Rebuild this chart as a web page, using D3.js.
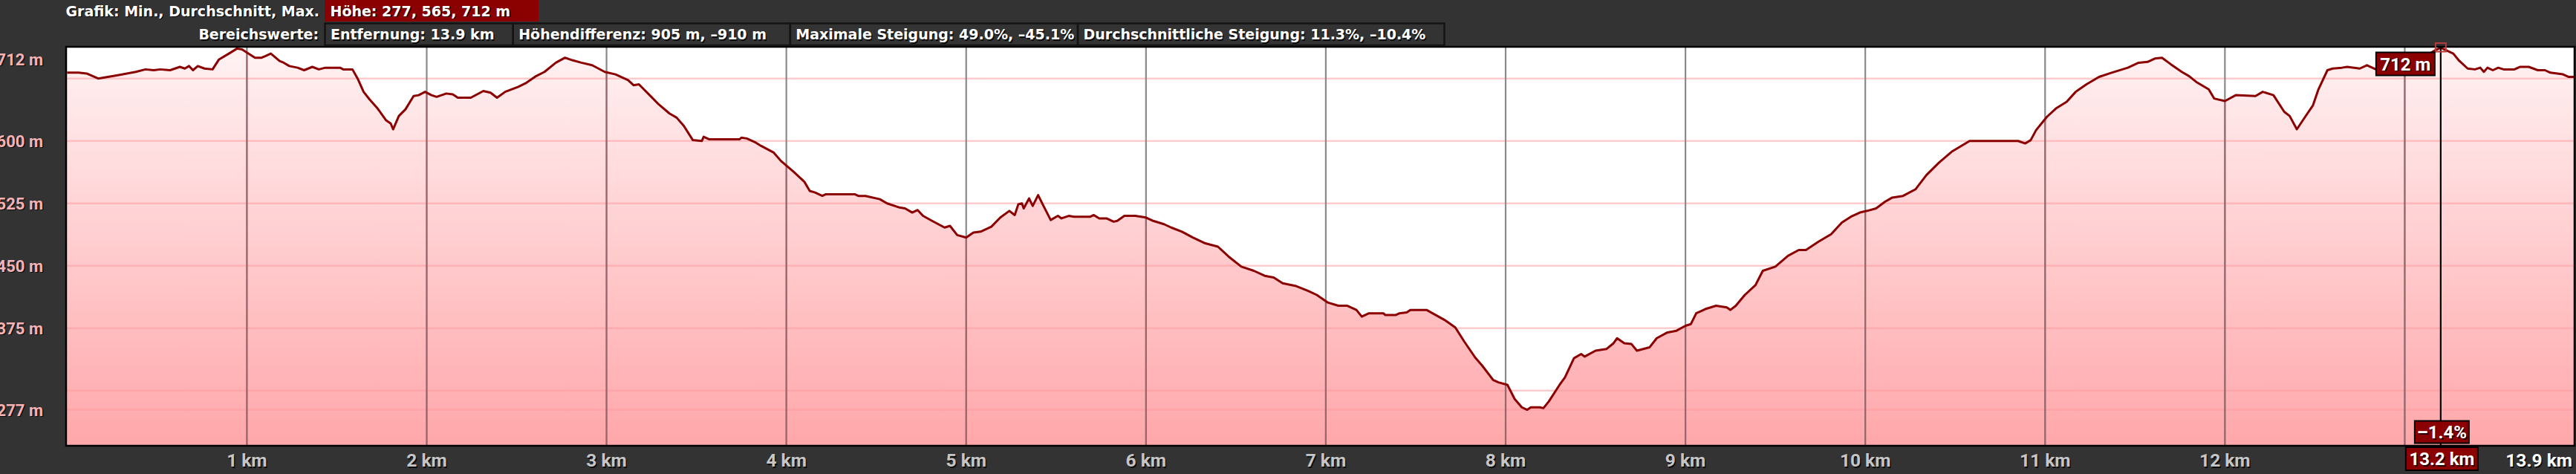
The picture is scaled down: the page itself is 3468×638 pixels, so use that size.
<!DOCTYPE html>
<html>
<head>
<meta charset="UTF-8">
<title>Höhenprofil</title>
<style>
  body { margin: 0; background: #333333; overflow: hidden; }
  svg { display: block; }
  text { font-family: Roboto, "DejaVu Sans", sans-serif; font-weight: bold; }
  .head text { font-family: "DejaVu Sans", sans-serif; }
</style>
</head>
<body>
<script src="https://d3js.org/d3.v7.min.js"></script>
<script>

// Profile data: distance (km) and elevation (m)
var distKm = [0, 0.064, 0.109, 0.173, 0.227, 0.282, 0.382, 0.436, 0.482, 0.518, 0.573, 0.627, 0.655, 0.678, 0.7, 0.727,
  0.764, 0.809, 0.845, 0.9, 0.945, 0.973, 1.045, 1.082, 1.104, 1.133, 1.182, 1.205, 1.236, 1.282, 1.318, 1.364, 1.4,
  1.436, 1.518, 1.536, 1.587, 1.618, 1.649, 1.682, 1.727, 1.773, 1.8, 1.813, 1.845, 1.882, 1.927, 1.955, 1.991, 2.027,
  2.055, 2.109, 2.145, 2.173, 2.245, 2.315, 2.355, 2.391, 2.436, 2.509, 2.555, 2.609, 2.655, 2.718, 2.769,
  2.81, 2.86, 2.92, 2.99, 3.05, 3.12, 3.15, 3.18, 3.24, 3.29, 3.35, 3.39, 3.43, 3.48, 3.53, 3.54, 3.57, 3.74, 3.75,
  3.78, 3.83, 3.86, 3.93, 3.97, 4.04, 4.10, 4.13, 4.16, 4.20, 4.22, 4.38, 4.40, 4.44, 4.52, 4.56, 4.63, 4.66, 4.70,
  4.73, 4.76, 4.81, 4.88, 4.91, 4.95, 5.00, 5.04, 5.08, 5.14, 5.19, 5.24, 5.27, 5.29, 5.31, 5.32, 5.35, 5.37, 5.40,
  5.43, 5.47, 5.51, 5.53, 5.57, 5.60,
  5.62, 5.69, 5.71, 5.74, 5.78, 5.82, 5.84, 5.88, 5.94, 6.00, 6.04, 6.10, 6.14, 6.20, 6.26, 6.33, 6.40, 6.46, 6.53,
  6.60, 6.66, 6.71, 6.76, 6.83, 6.90, 6.95, 7.01, 7.07, 7.12, 7.17, 7.20, 7.24, 7.32, 7.33, 7.39, 7.41, 7.45, 7.47,
  7.56, 7.61, 7.66, 7.72, 7.77, 7.83, 7.87, 7.93, 7.96, 8.01, 8.05, 8.09, 8.12, 8.14, 8.19, 8.21, 8.24, 8.30, 8.33,
  8.38, 8.42,
  8.44, 8.50, 8.56, 8.60, 8.62, 8.66, 8.70, 8.73, 8.80, 8.84, 8.90, 8.95, 9.00, 9.03, 9.06, 9.11, 9.14, 9.17, 9.23,
  9.25, 9.28, 9.33, 9.39, 9.43, 9.50, 9.57, 9.63, 9.67, 9.74, 9.81, 9.87, 9.92, 9.97, 10.01, 10.06, 10.11, 10.15,
  10.21, 10.28, 10.34, 10.41, 10.48, 10.58, 10.85, 10.89, 10.92, 10.95, 11.01, 11.06, 11.12, 11.17,
  11.23, 11.30, 11.37, 11.46, 11.52, 11.57, 11.61, 11.65, 11.70, 11.76, 11.80, 11.84, 11.91, 11.94, 12.00, 12.06,
  12.17, 12.21, 12.27, 12.33, 12.36, 12.40, 12.44, 12.49, 12.52, 12.57, 12.60, 12.65, 12.68, 12.75, 12.79, 12.84,
  13.00, 13.10, 13.17, 13.20, 13.23, 13.27, 13.30, 13.35, 13.39, 13.42, 13.44, 13.46, 13.49, 13.52, 13.55, 13.61,
  13.64, 13.69, 13.74, 13.78, 13.81, 13.88, 13.91, 13.94];

var elevM = [682, 682, 681, 675, 677, 679, 683, 686, 685, 686, 685, 689, 687, 690, 685, 690,
  687, 686, 698, 705, 711, 710, 700, 700, 702, 705, 696, 694, 690, 688, 685, 689, 686,
  688, 688, 686, 686, 674, 659, 650, 639, 625, 621, 614, 630, 638, 654, 655, 659, 655,
  653, 657, 656, 652, 652, 660, 658, 652, 659, 665, 670, 678, 683, 694, 700,
  697, 694, 691, 683, 680, 673, 667, 668, 655, 644, 633, 628, 618, 601, 600, 605, 602, 602, 604,
  603, 598, 594, 586, 576, 563, 551, 540, 538, 534, 536, 536, 534, 534, 530, 525, 520, 519, 514,
  517, 510, 504, 496, 498, 487, 484, 490, 491, 497, 508, 516, 511, 524, 525, 519, 531, 522, 535,
  522, 505, 510, 507, 510, 509,
  509, 509, 511, 507, 507, 503, 504, 510, 510, 508, 504, 500, 496, 491, 484, 477, 473, 461, 449,
  444, 438, 436, 429, 426, 420, 415, 406, 402, 402, 397, 389, 393, 393, 391, 391, 393, 394, 397,
  397, 391, 385, 376, 359, 340, 330, 313, 310, 307, 290, 280, 277, 280, 280, 279, 287, 307, 316,
  339, 344,
  341, 348, 350, 357, 363, 357, 356, 348, 352, 363, 370, 372, 378, 380, 393, 398, 400, 402, 400,
  397, 402, 415, 427, 444, 449, 462, 469, 469, 479, 488, 502, 509, 514, 516, 519, 527, 532,
  534, 542, 559, 574, 587, 600, 600, 597, 601, 613, 629, 639, 647, 659,
  668, 677, 682, 688, 694, 695, 699, 700, 692, 683, 678, 671, 662, 651, 648, 655,
  654, 659, 655, 635, 630, 614, 627, 643, 662, 685, 687, 688, 689, 687, 691, 686,
  694, 700, 709, 712, 709, 705, 697, 687, 686, 688, 683, 688, 685, 688, 686, 686,
  689, 689, 685, 685, 682, 680, 677, 677];

var yGridValues = [675, 600, 525, 450, 375, 300, 277];
var yLabelValues = [712, 600, 525, 450, 375, 277];
var xTickValues = [1, 2, 3, 4, 5, 6, 7, 8, 9, 10, 11, 12, 13];
var xLabelValues = [1, 2, 3, 4, 5, 6, 7, 8, 9, 10, 11, 12];
var endLabel = "13.9 km";

var headerTitle = "Grafik: Min., Durchschnitt, Max.";
var headerValue = "Höhe: 277, 565, 712 m";
var rangeTitle = "Bereichswerte:";
var rangeValues = ["Entfernung: 13.9 km", "Höhendifferenz: 905 m, –910 m",
  "Maximale Steigung: 49.0%, –45.1%", "Durchschnittliche Steigung: 11.3%, –10.4%"];

var cursorKm = 13.2;
var cursorElev = "712 m";
var cursorGrade = "–1.4%";
var cursorDist = "13.2 km";

// Build svg
var svgWidth = 3468, svgHeight = 638;
var plot = {left: 89, top: 63, right: 3466, bottom: 600};

var svg = d3.select("body").append("svg")
  .attr("width", svgWidth)
  .attr("height", svgHeight);

svg.append("rect")
  .attr("width", svgWidth).attr("height", svgHeight)
  .attr("fill", "#333333");

var data = distKm.map((d, i) => ({km: d, m: elevM[i]}));

var xScale = d3.scaleLinear().domain([0, 13.94]).range([90.3, 3465]);
var yScale = d3.scaleLinear().domain([277, 675]).range([551.6, 105.7]);

// gradient for the area
var defs = svg.append("defs");
var grad = defs.append("linearGradient")
  .attr("id", "fillGrad")
  .attr("gradientUnits", "userSpaceOnUse")
  .attr("x1", 0).attr("x2", 0)
  .attr("y1", plot.top).attr("y2", plot.bottom);
grad.append("stop").attr("offset", "0%").attr("stop-color", "#fff2f3");
grad.append("stop").attr("offset", "100%").attr("stop-color", "#ffa7aa");

var area = d3.area()
  .x(d => xScale(d.km))
  .y0(plot.bottom)
  .y1(d => yScale(d.m));

var line = d3.line()
  .x(d => xScale(d.km))
  .y(d => yScale(d.m));

defs.append("clipPath").attr("id", "underCurve")
  .append("path").attr("d", area(data));

// plot background
svg.append("rect")
  .attr("x", plot.left).attr("y", plot.top)
  .attr("width", plot.right - plot.left).attr("height", plot.bottom - plot.top)
  .attr("fill", "#ffffff");

svg.append("path")
  .attr("d", area(data))
  .attr("fill", "url(#fillGrad)");

// horizontal grid
svg.append("g").selectAll("line")
  .data(yGridValues)
  .enter().append("line")
  .attr("x1", plot.left).attr("x2", plot.right)
  .attr("y1", d => yScale(d)).attr("y2", d => yScale(d))
  .attr("stroke", "#ff9a9e")
  .attr("stroke-opacity", 0.5)
  .attr("stroke-width", 2.5);

// vertical grid: grey over white, rosy under the curve
var vgrid = svg.append("g");
vgrid.selectAll("line.grey")
  .data(xTickValues)
  .enter().append("line")
  .attr("class", "grey")
  .attr("x1", d => xScale(d)).attr("x2", d => xScale(d))
  .attr("y1", plot.top).attr("y2", plot.bottom)
  .attr("stroke", "#8a8a8a")
  .attr("stroke-width", 2.2);
vgrid.append("g").attr("clip-path", "url(#underCurve)")
  .selectAll("line")
  .data(xTickValues)
  .enter().append("line")
  .attr("x1", d => xScale(d)).attr("x2", d => xScale(d))
  .attr("y1", plot.top).attr("y2", plot.bottom)
  .attr("stroke", "#a5424c")
  .attr("stroke-opacity", 0.5)
  .attr("stroke-width", 2.2);

svg.append("path")
  .attr("d", line(data))
  .attr("fill", "none")
  .attr("stroke", "#8b0000")
  .attr("stroke-width", 3)
  .attr("stroke-linejoin", "round");

// frame
svg.append("rect")
  .attr("x", plot.left).attr("y", plot.top)
  .attr("width", plot.right - plot.left).attr("height", plot.bottom - plot.top)
  .attr("fill", "none")
  .attr("stroke", "#000")
  .attr("stroke-width", 2.5);

// text with a dark drop shadow
function shadowText(g, x, y, txt, size, color, anchor) {
  g.append("text")
    .attr("x", x + 1.5).attr("y", y + 1.5)
    .attr("font-size", size)
    .attr("text-anchor", anchor || "start")
    .attr("fill", "#000").attr("fill-opacity", 0.75)
    .text(txt);
  return g.append("text")
    .attr("x", x).attr("y", y)
    .attr("font-size", size)
    .attr("text-anchor", anchor || "start")
    .attr("fill", color)
    .text(txt);
}

// y labels
var yLab = svg.append("g");
yLabelValues.forEach(function(v) {
  var cy = Math.max(yScale(v), 79.6);
  shadowText(yLab, 58, cy + 8, v + " m", 22, "#f7b3b3", "end");
});

// x labels
var xLab = svg.append("g");
xLabelValues.forEach(function(v) {
  shadowText(xLab, xScale(v), 628, v + " km", 24.5, "#c6c6c6", "middle");
});
shadowText(xLab, 3463, 628, endLabel, 24.5, "#ffffff", "end");

// header
var head = svg.append("g").attr("class", "head");
shadowText(head, 430, 21.5, headerTitle, 19, "#ffffff", "end");
head.append("rect")
  .attr("x", 437).attr("y", -2).attr("width", 288).attr("height", 31)
  .attr("fill", "#8b0000");
shadowText(head, 444.5, 21.5, headerValue, 19, "#ffffff");

shadowText(head, 429, 53, rangeTitle, 19, "#ffffff", "end");
var boxEdges = [437.5, 690.7, 1063.8, 1451, 1944.5];
rangeValues.forEach(function(t, i) {
  head.append("rect")
    .attr("x", boxEdges[i]).attr("y", 31.5)
    .attr("width", boxEdges[i + 1] - boxEdges[i]).attr("height", 29.5)
    .attr("fill", "none")
    .attr("stroke", "#141414")
    .attr("stroke-width", 2.5);
  shadowText(head, boxEdges[i] + 7.5, 53, t, 19, "#ffffff");
});

// cursor
var cx = xScale(cursorKm);
var cur = svg.append("g");
cur.append("line")
  .attr("x1", cx).attr("x2", cx)
  .attr("y1", plot.top).attr("y2", plot.bottom)
  .attr("stroke", "#000").attr("stroke-width", 2.2);
cur.append("rect")
  .attr("x", cx - 7).attr("y", 58).attr("width", 14).attr("height", 11.5)
  .attr("fill", "none").attr("stroke", "#b83a3a").attr("stroke-width", 2);

function tipBox(x, y, w, h, txt) {
  cur.append("rect")
    .attr("x", x).attr("y", y).attr("width", w).attr("height", h)
    .attr("fill", "#8b0000")
    .attr("stroke", "#000").attr("stroke-width", 2);
  shadowText(cur, x + w / 2, y + h / 2 + 8.5, txt, 24, "#ffffff", "middle");
}
tipBox(cx - 87, 70.5, 79, 31, cursorElev);
tipBox(cx - 35, 566.5, 73, 30, cursorGrade);
tipBox(cx - 47, 602, 97, 31, cursorDist);

</script>
</body>
</html>
